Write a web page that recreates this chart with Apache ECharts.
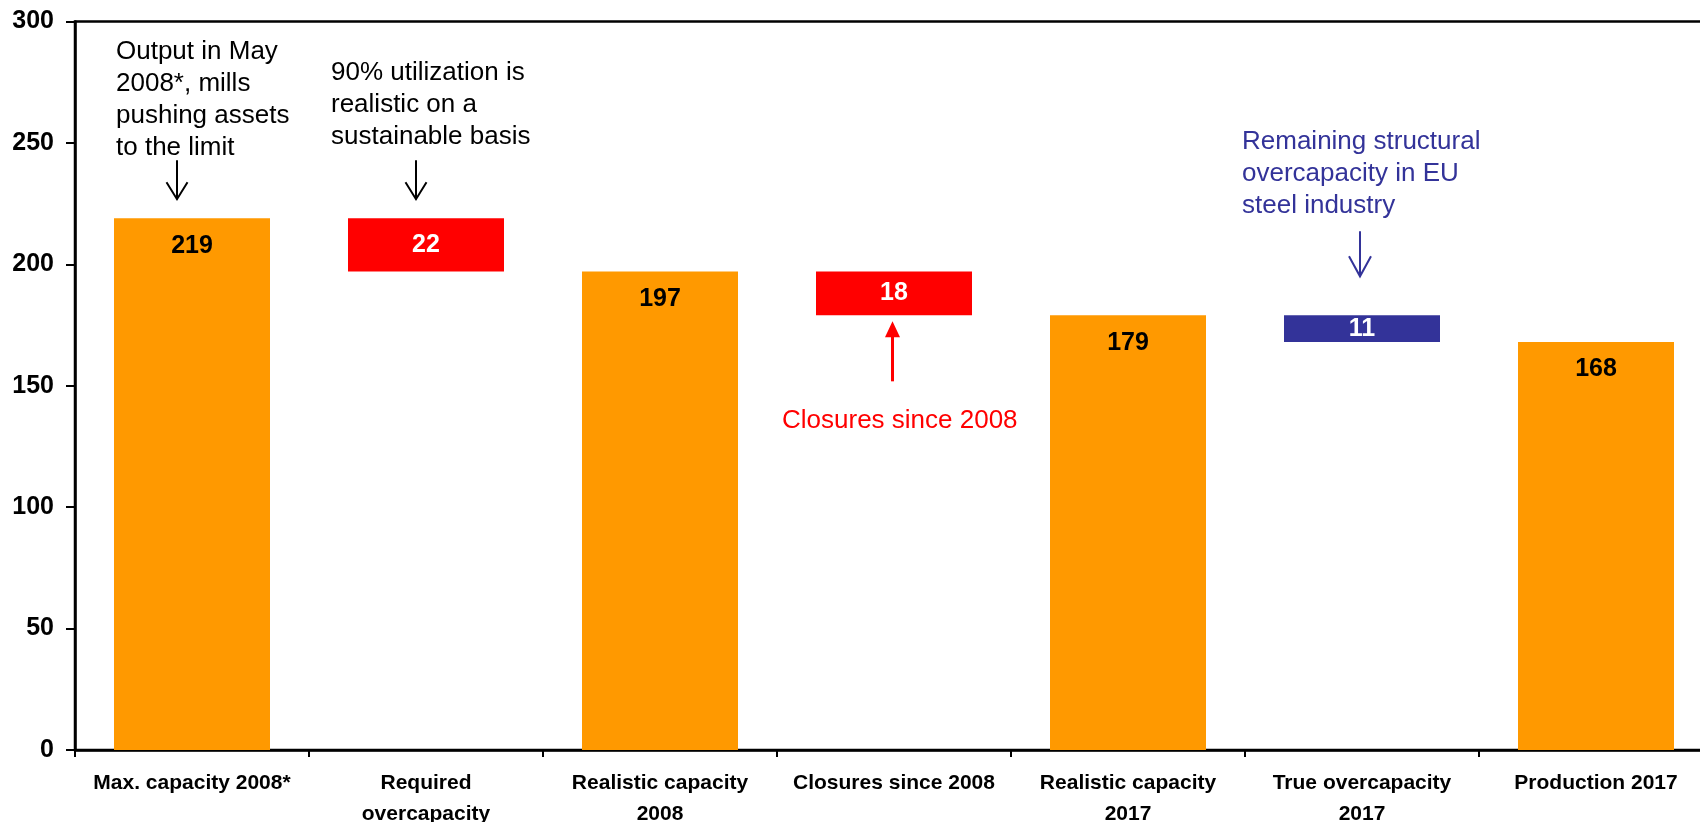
<!DOCTYPE html>
<html>
<head>
<meta charset="utf-8">
<title>EU steel capacity bridge</title>
<script src="https://cdn.jsdelivr.net/npm/echarts@6/dist/echarts.min.js"></script>
<style>
  html, body { margin: 0; padding: 0; background: #ffffff; }
  #chart { width: 1700px; height: 822px; }
</style>
</head>
<body>
<div id="chart"></div>
<script>
// Capacity bridge, million tonnes
const categories = [
  'Max. capacity 2008*',
  'Required\novercapacity',
  'Realistic capacity\n2008',
  'Closures since 2008',
  'Realistic capacity\n2017',
  'True overcapacity\n2017',
  'Production 2017'
];
// bar heights (totals stand on zero, steps float on their base)
const barValues = [219, 22, 197, 18, 179, 11, 168];
// invisible base under the floating steps
const floatBase = [null, 197, null, 179, null, 168, null];
// kind of each bar: total, drop (closures / required slack), gap (remaining overcapacity)
const barKinds = ['total', 'drop', 'total', 'drop', 'total', 'gap', 'total'];
// value axis ticks
const yMin = 0, yMax = 300, yStep = 50;

const FONT = '"Liberation Sans", Arial, Helvetica, sans-serif';
const ORANGE = '#FF9900', RED = '#FF0000', NAVY = '#333399';
const kindColor = { total: ORANGE, drop: RED, gap: NAVY };

const chart = echarts.init(document.getElementById('chart'), null, { renderer: 'canvas' });

const stepData = barValues.map((v, i) => {
  const kind = barKinds[i];
  const isTotal = kind === 'total';
  return {
    value: v,
    itemStyle: { color: kindColor[kind] },
    label: {
      position: isTotal ? 'insideTop' : 'inside',
      distance: isTotal ? 15 : 5,
      color: isTotal ? '#000000' : '#ffffff'
    }
  };
});

chart.setOption({
  animation: false,
  backgroundColor: '#ffffff',
  textStyle: { fontFamily: FONT },
  grid: {
    left: 75, top: 21.5, bottom: 72, width: 1638,
    outerBoundsMode: 'none',
    show: true, borderColor: '#000000', borderWidth: 2.5, backgroundColor: 'transparent',
    containLabel: false
  },
  xAxis: {
    type: 'category',
    data: categories,
    axisLine: { lineStyle: { color: '#000000', width: 2.5 } },
    axisTick: { show: true, length: 7, lineStyle: { color: '#000000', width: 2 } },
    axisLabel: {
      interval: 0, margin: 18, color: '#000000',
      fontFamily: FONT, fontWeight: 'bold', fontSize: 21, lineHeight: 31
    },
    splitLine: { show: false }
  },
  yAxis: {
    type: 'value',
    min: yMin, max: yMax, interval: yStep,
    axisLine: { show: true, lineStyle: { color: '#000000', width: 2.5 } },
    axisTick: { show: true, length: 9, lineStyle: { color: '#000000', width: 2 } },
    axisLabel: { margin: 21, color: '#000000', fontFamily: FONT, fontWeight: 'bold', fontSize: 25 },
    splitLine: { show: false }
  },
  series: [
    {
      name: 'base', type: 'bar', stack: 'bridge', barWidth: 156,
      data: floatBase.map(v => (v === null ? '-' : v)),
      itemStyle: { color: 'transparent' },
      silent: true
    },
    {
      name: 'value', type: 'bar', stack: 'bridge', barWidth: 156,
      data: stepData,
      label: {
        show: true, fontFamily: FONT, fontWeight: 'bold', fontSize: 25
      }
    }
  ]
});

// Annotations anchored to the bars through the axes
const px = (cat, val) => chart.convertToPixel({ gridIndex: 0 }, [cat, val]);
const topOf = i => px(i, (floatBase[i] || 0) + barValues[i]);
const bottomOf = i => px(i, floatBase[i] || 0);

function openArrowDown(x, y0, tip, color, w, headH, headW) {
  return [
    { type: 'line', shape: { x1: x, y1: y0, x2: x, y2: tip }, style: { stroke: color, lineWidth: w } },
    { type: 'polyline', shape: { points: [[x - headW, tip - headH], [x, tip], [x + headW, tip - headH]] },
      style: { stroke: color, lineWidth: w, fill: null } }
  ];
}

function textBlock(x, y, text, color) {
  return {
    type: 'text', x: x, y: y,
    style: {
      text: text, fill: color, fontFamily: FONT, fontSize: 26, lineHeight: 32,
      align: 'left', verticalAlign: 'top'
    }
  };
}

const g = [];
// arrow + note over the first total
const a0 = topOf(0);
g.push(...openArrowDown(a0[0] - 15, a0[1] - 58, a0[1] - 19, '#000000', 2, 17, 10.5));
g.push(textBlock(116, 36, 'Output in May\n2008*, mills\npushing assets\nto the limit', '#000000'));

// arrow + note over the required overcapacity step
const a1 = px(1, barValues[0]);
g.push(...openArrowDown(a1[0] - 10, a1[1] - 58, a1[1] - 19, '#000000', 2, 17, 10.5));
g.push(textBlock(331, 57, '90% utilization is\nrealistic on a\nsustainable basis', '#000000'));

// red upward arrow below the closures step
const a3 = bottomOf(3);
const rx = a3[0] - 1.5, rtip = a3[1] + 6;
g.push({ type: 'line', shape: { x1: rx, y1: rtip + 60, x2: rx, y2: rtip + 12 }, style: { stroke: RED, lineWidth: 3 } });
g.push({ type: 'polygon', shape: { points: [[rx - 7.5, rtip + 16], [rx, rtip], [rx + 7.5, rtip + 16]] }, style: { fill: RED } });
g.push(textBlock(782, 405, 'Closures since 2008', RED));

// navy arrow + note over the remaining overcapacity step
const a5 = topOf(5);
g.push(...openArrowDown(a5[0] - 2, a5[1] - 84, a5[1] - 39, NAVY, 2, 20, 11));
g.push(textBlock(1242, 126, 'Remaining structural\novercapacity in EU\nsteel industry', NAVY));

chart.setOption({ graphic: { elements: g } });
</script>
</body>
</html>
